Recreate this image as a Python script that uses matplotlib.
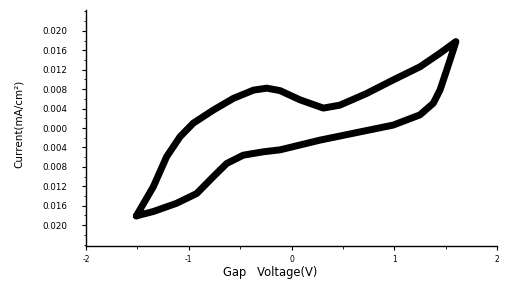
import matplotlib
matplotlib.use("Agg")
import matplotlib.pyplot as plt
import numpy as np

# Forward sweep (upper branch)
v_up = [-1.51, -1.345, -1.215, -1.085, -0.956, -0.76, -0.566, -0.37, -0.24, -0.112, 0.083, 0.31, 0.47, 0.73, 0.99, 1.25, 1.445, 1.60]
i_up = [-0.0181, -0.0121, -0.0059, -0.0018, 0.0010, 0.0037, 0.0061, 0.0078, 0.0082, 0.0077, 0.0058, 0.0041, 0.0047, 0.0071, 0.0099, 0.0126, 0.0154, 0.0178]
# Reverse sweep (lower branch)
v_dn = [1.60, 1.575, 1.51, 1.445, 1.38, 1.25, 0.99, 0.667, 0.277, -0.112, -0.274, -0.47, -0.63, -0.76, -0.923, -1.118, -1.345, -1.51]
i_dn = [0.0178, 0.0161, 0.0119, 0.0078, 0.0051, 0.0027, 0.0006, -0.0008, -0.0025, -0.0045, -0.0049, -0.0056, -0.0073, -0.0100, -0.0135, -0.0155, -0.0172, -0.0181]

xticks = [-2, -1, 0, 1, 2]
xticklabels = ["-2", "-1", "0", "1", "2"]
yticks = [0.020, 0.016, 0.012, 0.008, 0.004, 0.000, -0.004, -0.008, -0.012, -0.016, -0.020]
yticklabels = ["0.020", "0.016", "0.012", "0.008", "0.004", "0.000", "0.004", "0.008", "0.012", "0.016", "0.020"]

fig = plt.figure(figsize=(5.07, 2.89), dpi=100)
ax = fig.add_axes([86/507, 1-246/289, (497-86)/507, (246-10)/289])

ax.plot(v_up + v_dn, i_up + i_dn, color="black", lw=5, solid_joinstyle="round", solid_capstyle="round")

ax.set_xlim(-2, 2)
ax.set_ylim(-0.0243, 0.0243)
ax.set_xticks(xticks)
ax.set_xticklabels(xticklabels, fontsize=5.5, family="DejaVu Sans")
ax.set_xticks([-1.5, -0.5, 0.5, 1.5], minor=True)
ax.set_yticks(yticks)
ax.set_yticklabels(yticklabels, fontsize=6.3, family="DejaVu Sans")
ax.set_yticks(np.arange(-0.024, 0.0241, 0.002), minor=True)
ax.tick_params(axis="both", which="major", direction="out", length=3, width=0.8)
ax.tick_params(axis="both", which="minor", direction="out", length=1.8, width=0.6)
ax.tick_params(axis="y", which="major", pad=10.5)
ax.tick_params(axis="x", which="major", pad=3.5)

for s in ["top", "right"]:
    ax.spines[s].set_visible(False)
for s in ["left", "bottom"]:
    ax.spines[s].set_linewidth(1.0)

ax.set_xlabel("Gap   Voltage(V)", fontsize=8.3, family="DejaVu Sans")
ax.xaxis.set_label_coords((270-86)/411, -(266-246)/236)
ax.set_ylabel("Current(mA/cm²)", fontsize=7.5, family="DejaVu Sans")
ax.yaxis.set_label_coords((24-86)/411, (246-124)/236)

fig.savefig("out.png", dpi=100)
